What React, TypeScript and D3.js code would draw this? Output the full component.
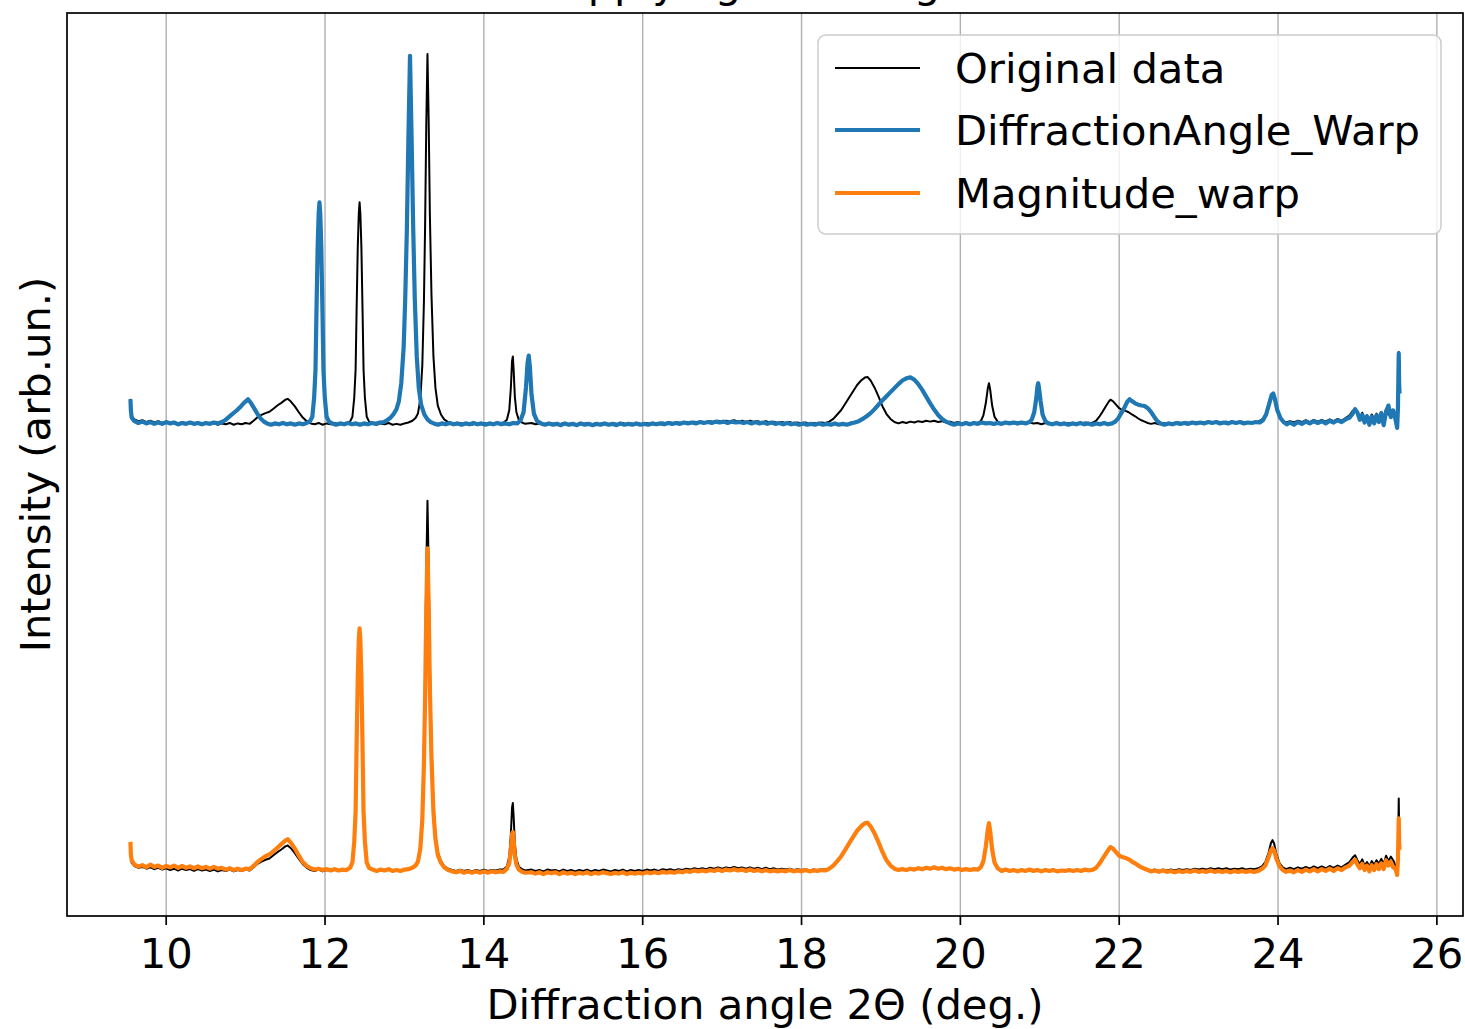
import React from "react";
import * as d3 from "d3";

type Pt = [number, number];

// vertical shift applied to the upper pair of curves (arb. units)
const OFFSET = 100;

// [2theta (deg), intensity]
const originalData: Pt[] = [
  [9.55, 5.5], [9.555, 3.2], [9.565, 1.6], [9.6, 0.9], [9.65, 0.5], [9.7, 0.7], [9.75, 0.3], [9.8, 0.6], [9.85, 0.2], [9.9, 0.5],
  [9.95, 0.1], [10.0, 0.4], [10.05, 0.0], [10.1, 0.3], [10.15, -0.1], [10.2, 0.3], [10.25, 0.0], [10.3, 0.2], [10.35, -0.2], [10.4, 0.2],
  [10.45, -0.1], [10.5, 0.1], [10.55, -0.2], [10.6, 0.1], [10.65, -0.3], [10.7, 0.0], [10.75, -0.2], [10.8, 0.1], [10.85, -0.3], [10.9, 0.0],
  [10.95, -0.2], [11.0, 0.1], [11.05, -0.1], [11.1, 0.6], [11.15, 1.4], [11.2, 1.9], [11.25, 2.3], [11.3, 2.6], [11.35, 3.3], [11.4, 4.0],
  [11.45, 4.6], [11.5, 5.3], [11.53, 5.5], [11.57, 4.9], [11.62, 3.8], [11.67, 2.5], [11.72, 1.3], [11.77, 0.5], [11.82, 0.0], [11.87, -0.2],
  [11.92, 0.1], [11.97, -0.3], [12.02, 0.0], [12.07, -0.2], [12.12, 0.1], [12.17, -0.2], [12.22, 0.0], [12.27, -0.1],
  [12.315, 0.4], [12.345, 1.5], [12.368, 5.8], [12.385, 12], [12.397, 24.8], [12.412, 39.4], [12.425, 47], [12.435, 49.5], [12.445, 47],
  [12.458, 39.4], [12.473, 24.8], [12.485, 12], [12.502, 5.8], [12.525, 1.5], [12.555, 0.4], [12.6, 0.0], [12.65, -0.3], [12.7, 0.0],
  [12.75, -0.2], [12.8, 0.1], [12.85, -0.3], [12.9, -0.1], [12.95, -0.3], [13.0, 0.0], [13.05, 0.2], [13.1, 0.6], [13.14, 1.2], [13.17, 2.2],
  [13.2, 5.5], [13.225, 13], [13.245, 27], [13.26, 44], [13.275, 67], [13.29, 82.7], [13.305, 68], [13.32, 47], [13.34, 29], [13.365, 15],
  [13.39, 8], [13.42, 4], [13.46, 2], [13.5, 0.9], [13.55, 0.3], [13.6, 0.0], [13.65, -0.2], [13.7, 0.1], [13.75, -0.2], [13.8, 0.0],
  [13.85, -0.3], [13.9, 0.0], [13.95, -0.2], [14.0, 0.1], [14.05, -0.2], [14.1, 0.0], [14.15, -0.1], [14.2, 0.1], [14.25, 0.2], [14.29, 0.8],
  [14.32, 3], [14.34, 8], [14.355, 14], [14.365, 15], [14.375, 12], [14.39, 6], [14.41, 2.5], [14.44, 0.8], [14.48, 0.2], [14.52, -0.1],
  [14.6, 0.1], [14.65, -0.2], [14.7, 0.0], [14.75, -0.3], [14.8, 0.1], [14.85, -0.1], [14.9, 0.0], [14.95, -0.3], [15.0, 0.1], [15.05, -0.2],
  [15.1, 0.0], [15.15, -0.3], [15.2, 0.0], [15.25, -0.2], [15.3, 0.1], [15.35, -0.3], [15.4, 0.0], [15.45, -0.2], [15.5, 0.1], [15.55, -0.1],
  [15.6, -0.3], [15.65, 0.0], [15.7, -0.2], [15.75, 0.1], [15.8, -0.3], [15.85, 0.0], [15.9, -0.2], [15.95, 0.0], [16.0, -0.2], [16.05, 0.1],
  [16.1, -0.1], [16.15, 0.1], [16.2, -0.2], [16.25, 0.2], [16.3, 0.0], [16.35, 0.2], [16.4, -0.1], [16.45, 0.2], [16.5, 0.0], [16.55, 0.3],
  [16.6, 0.1], [16.65, 0.4], [16.7, 0.2], [16.75, 0.4], [16.8, 0.2], [16.85, 0.5], [16.9, 0.3], [16.95, 0.6], [17.0, 0.3], [17.05, 0.6],
  [17.1, 0.4], [17.15, 0.7], [17.2, 0.4], [17.25, 0.6], [17.3, 0.3], [17.35, 0.6], [17.4, 0.3], [17.45, 0.5], [17.5, 0.2], [17.55, 0.5],
  [17.6, 0.2], [17.65, 0.4], [17.7, 0.1], [17.75, 0.3], [17.8, 0.1], [17.85, 0.3], [17.9, 0.0], [17.95, 0.2], [18.0, 0.0], [18.05, 0.2],
  [18.1, -0.1], [18.15, 0.1], [18.2, 0.0], [18.25, 0.2], [18.3, 0.1], [18.35, 0.4], [18.4, 1.0], [18.45, 2.0], [18.5, 3.0], [18.55, 4.4],
  [18.6, 5.8], [18.65, 7.2], [18.7, 8.6], [18.75, 9.6], [18.8, 10.3], [18.83, 10.4], [18.87, 9.6], [18.92, 8.0], [18.97, 6.0], [19.02, 3.8],
  [19.07, 2.1], [19.12, 1.0], [19.17, 0.3], [19.22, 0.0], [19.27, 0.3], [19.32, 0.1], [19.37, 0.4], [19.42, 0.2], [19.47, 0.5], [19.52, 0.3],
  [19.57, 0.6], [19.62, 0.4], [19.67, 0.6], [19.72, 0.3], [19.77, 0.5], [19.82, 0.2], [19.87, 0.4], [19.92, 0.1], [19.97, 0.3], [20.02, 0.0],
  [20.07, 0.2], [20.12, 0.0], [20.17, 0.2], [20.22, 0.1], [20.26, 0.6], [20.29, 1.8], [20.32, 4.5], [20.345, 7.8], [20.36, 9.0], [20.375, 7.6],
  [20.4, 4.0], [20.43, 1.5], [20.47, 0.4], [20.52, 0.0], [20.57, 0.2], [20.62, -0.1], [20.67, 0.1], [20.72, -0.2], [20.77, 0.1], [20.82, -0.1],
  [20.87, 0.2], [20.92, 0.0], [20.97, 0.1], [21.02, -0.2], [21.07, 0.1], [21.12, -0.1], [21.17, 0.1], [21.22, -0.2], [21.27, 0.0], [21.32, -0.1],
  [21.37, 0.1], [21.42, -0.1], [21.47, 0.1], [21.52, -0.1], [21.57, 0.2], [21.62, 0.0], [21.67, 0.2], [21.71, 0.6], [21.75, 1.5], [21.79, 2.6],
  [21.83, 3.8], [21.87, 4.9], [21.89, 5.3], [21.92, 5.0], [21.96, 4.2], [22.0, 3.4], [22.04, 3.0], [22.08, 2.8], [22.12, 2.5], [22.16, 2.0],
  [22.2, 1.6], [22.24, 1.1], [22.28, 0.7], [22.32, 0.4], [22.36, 0.1], [22.4, -0.1], [22.45, 0.1], [22.5, -0.2], [22.55, 0.1], [22.6, -0.1],
  [22.65, 0.1], [22.7, -0.1], [22.75, 0.2], [22.8, 0.0], [22.85, 0.2], [22.9, 0.0], [22.95, 0.3], [23.0, 0.1], [23.05, 0.3], [23.1, 0.1],
  [23.15, 0.4], [23.2, 0.2], [23.25, 0.4], [23.3, 0.2], [23.35, 0.4], [23.4, 0.1], [23.45, 0.3], [23.5, 0.2], [23.55, 0.4], [23.6, 0.1],
  [23.65, 0.3], [23.7, 0.2], [23.75, 0.4], [23.8, 0.9], [23.84, 1.8], [23.88, 3.8], [23.91, 6.0], [23.93, 6.7], [23.95, 6.0], [23.98, 3.5],
  [24.02, 1.5], [24.06, 0.6], [24.1, 0.2], [24.15, 0.5], [24.2, 0.2], [24.25, 0.6], [24.3, 0.3], [24.35, 0.7], [24.4, 0.3], [24.45, 0.8],
  [24.5, 0.4], [24.55, 0.8], [24.6, 0.4], [24.65, 0.9], [24.7, 0.5], [24.75, 1.0], [24.8, 0.6], [24.85, 1.2], [24.9, 1.8], [24.94, 2.8],
  [24.97, 3.3], [25.0, 2.2], [25.03, 1.3], [25.06, 2.4], [25.09, 1.0], [25.12, 1.8], [25.15, 0.8], [25.18, 2.0], [25.21, 1.1], [25.24, 2.2],
  [25.27, 1.4], [25.3, 2.5], [25.33, 1.3], [25.36, 3.2], [25.39, 2.0], [25.42, 3.0], [25.45, 2.2], [25.48, 1.0], [25.5, 0.0], [25.51, 4.0],
  [25.52, 16.0], [25.525, 9.0], [25.53, 7.0],
];

const angleWarpData: Pt[] = [
  [9.55, 5.4], [9.555, 3.0], [9.565, 1.3], [9.6, 0.5], [9.65, 0.1], [9.7, 0.4], [9.75, 0.0], [9.8, 0.3], [9.85, -0.1], [9.9, 0.2],
  [9.95, -0.1], [10.0, 0.3], [10.05, 0.0], [10.1, 0.2], [10.15, -0.2], [10.2, 0.1], [10.25, -0.1], [10.3, 0.2], [10.35, -0.1], [10.4, 0.1],
  [10.45, -0.2], [10.5, 0.1], [10.55, -0.1], [10.6, 0.2], [10.65, 0.0], [10.7, 0.3], [10.74, 0.7], [10.78, 1.3], [10.82, 1.9], [10.86, 2.5],
  [10.9, 3.1], [10.94, 3.8], [10.98, 4.6], [11.03, 5.4], [11.07, 4.5], [11.11, 3.3], [11.15, 2.1], [11.19, 1.1], [11.23, 0.4], [11.27, 0.0],
  [11.32, -0.3], [11.37, 0.0], [11.42, -0.2], [11.47, 0.1], [11.52, -0.2], [11.57, 0.0], [11.62, -0.3], [11.67, 0.0], [11.72, -0.2], [11.77, 0.1],
  [11.81, 0.5], [11.84, 1.5], [11.863, 5.8], [11.88, 12], [11.892, 24.8], [11.907, 39.4], [11.92, 47], [11.93, 49.5], [11.94, 47], [11.953, 39.4],
  [11.968, 24.8], [11.98, 12], [11.997, 5.8], [12.02, 1.5], [12.05, 0.4], [12.09, 0.0], [12.14, -0.3], [12.19, 0.0], [12.24, -0.2], [12.29, 0.1],
  [12.34, -0.2], [12.39, 0.0], [12.44, -0.3], [12.49, 0.0], [12.54, -0.2], [12.59, 0.1], [12.64, -0.1], [12.69, 0.2], [12.74, 0.3], [12.78, 0.7],
  [12.82, 1.2], [12.86, 2.0], [12.9, 3.2], [12.93, 5.0], [12.96, 9.0], [12.99, 17], [13.01, 28], [13.03, 43], [13.05, 64], [13.07, 82.3],
  [13.09, 64], [13.11, 44], [13.13, 28], [13.155, 15], [13.18, 8], [13.21, 4.2], [13.25, 2.0], [13.29, 0.9], [13.33, 0.3], [13.37, 0.0],
  [13.42, -0.3], [13.47, 0.0], [13.52, -0.2], [13.57, 0.1], [13.62, -0.2], [13.67, 0.0], [13.72, -0.3], [13.77, 0.0], [13.82, -0.2], [13.87, 0.1],
  [13.92, -0.2], [13.97, 0.0], [14.02, -0.3], [14.07, 0.0], [14.12, -0.2], [14.17, 0.1], [14.22, -0.2], [14.27, 0.0], [14.32, -0.2], [14.37, 0.1],
  [14.42, 0.0], [14.46, 0.6], [14.5, 2.5], [14.53, 8], [14.55, 13.5], [14.565, 15.2], [14.58, 12.5], [14.6, 6.5], [14.63, 2.2], [14.67, 0.5],
  [14.72, 0.0], [14.77, -0.3], [14.82, 0.0], [14.87, -0.3], [14.92, -0.1], [14.97, -0.4], [15.02, 0.0], [15.07, -0.3], [15.12, -0.1], [15.17, -0.4],
  [15.22, 0.0], [15.27, -0.3], [15.32, -0.1], [15.37, -0.4], [15.42, -0.1], [15.47, -0.3], [15.52, 0.0], [15.57, -0.3], [15.62, -0.1], [15.67, -0.4],
  [15.72, 0.0], [15.77, -0.3], [15.82, -0.1], [15.87, -0.3], [15.92, 0.0], [15.97, -0.3], [16.02, -0.1], [16.07, -0.3], [16.12, 0.0], [16.17, -0.2],
  [16.22, 0.0], [16.27, -0.2], [16.32, 0.1], [16.37, -0.1], [16.42, 0.1], [16.47, -0.1], [16.52, 0.2], [16.57, 0.0], [16.62, 0.2], [16.67, 0.0],
  [16.72, 0.3], [16.77, 0.1], [16.82, 0.3], [16.87, 0.1], [16.92, 0.4], [16.97, 0.2], [17.02, 0.4], [17.07, 0.1], [17.12, 0.4], [17.17, 0.2],
  [17.22, 0.3], [17.27, 0.1], [17.32, 0.3], [17.37, 0.0], [17.42, 0.3], [17.47, 0.0], [17.52, 0.2], [17.57, -0.1], [17.62, 0.2], [17.67, -0.1],
  [17.72, 0.1], [17.77, -0.2], [17.82, 0.1], [17.87, -0.2], [17.92, 0.0], [17.97, -0.3], [18.02, 0.0], [18.07, -0.3], [18.12, -0.1], [18.17, -0.3],
  [18.22, 0.0], [18.27, -0.3], [18.32, -0.1], [18.37, -0.3], [18.42, 0.0], [18.47, -0.3], [18.52, -0.1], [18.57, -0.3], [18.62, 0.0], [18.67, 0.2],
  [18.72, 0.5], [18.77, 1.0], [18.82, 1.6], [18.87, 2.3], [18.92, 3.2], [18.97, 4.2], [19.02, 5.2], [19.07, 6.1], [19.12, 7.0], [19.17, 7.9],
  [19.22, 8.8], [19.27, 9.6], [19.32, 10.1], [19.37, 10.3], [19.42, 9.8], [19.47, 8.8], [19.52, 7.5], [19.57, 6.0], [19.62, 4.5], [19.67, 3.1],
  [19.72, 1.9], [19.77, 1.0], [19.82, 0.4], [19.87, 0.0], [19.92, -0.3], [19.97, 0.0], [20.02, -0.2], [20.07, 0.1], [20.12, -0.2], [20.17, 0.1],
  [20.22, -0.1], [20.27, 0.2], [20.32, 0.0], [20.37, 0.1], [20.42, -0.1], [20.47, 0.1], [20.52, -0.1], [20.57, 0.2], [20.62, 0.0], [20.67, 0.2],
  [20.72, 0.0], [20.77, 0.2], [20.82, 0.0], [20.87, 0.3], [20.9, 0.9], [20.93, 2.5], [20.955, 5.5], [20.97, 8.2], [20.98, 9.0], [20.99, 8.0],
  [21.01, 5.0], [21.035, 2.0], [21.07, 0.5], [21.11, 0.0], [21.16, -0.2], [21.21, 0.1], [21.26, -0.2], [21.31, 0.0], [21.36, -0.3], [21.41, 0.0],
  [21.46, -0.2], [21.51, 0.1], [21.56, -0.2], [21.61, 0.0], [21.66, -0.3], [21.71, 0.0], [21.76, -0.2], [21.81, 0.1], [21.86, -0.2], [21.91, 0.0],
  [21.95, 0.4], [21.99, 1.2], [22.03, 2.4], [22.07, 3.7], [22.1, 4.8], [22.13, 5.4], [22.16, 5.0], [22.2, 4.5], [22.24, 4.2], [22.28, 4.0],
  [22.32, 3.9], [22.36, 3.4], [22.4, 2.6], [22.44, 1.5], [22.48, 0.5], [22.52, 0.0], [22.57, -0.3], [22.62, 0.0], [22.67, -0.2], [22.72, 0.1],
  [22.77, -0.1], [22.82, 0.1], [22.87, -0.1], [22.92, 0.2], [22.97, 0.0], [23.02, 0.2], [23.07, 0.0], [23.12, 0.3], [23.17, 0.1], [23.22, 0.3],
  [23.27, 0.0], [23.32, 0.2], [23.37, 0.0], [23.42, 0.3], [23.47, 0.1], [23.52, 0.3], [23.57, 0.0], [23.62, 0.2], [23.67, 0.1], [23.72, 0.3],
  [23.77, 0.2], [23.81, 0.7], [23.85, 2.0], [23.89, 4.5], [23.92, 6.4], [23.94, 6.7], [23.96, 5.5], [23.99, 3.0], [24.03, 1.2], [24.07, 0.3],
  [24.11, -0.2], [24.15, 0.2], [24.2, -0.3], [24.25, 0.3], [24.3, -0.1], [24.35, 0.4], [24.4, 0.0], [24.45, 0.5], [24.5, 0.1], [24.55, 0.5],
  [24.6, 0.0], [24.65, 0.6], [24.7, 0.2], [24.75, 0.7], [24.8, 0.3], [24.85, 0.9], [24.9, 1.3], [24.94, 2.2], [24.97, 3.2], [25.0, 2.4],
  [25.03, 0.8], [25.06, 1.9], [25.09, 0.2], [25.12, 1.6], [25.15, -0.3], [25.18, 1.5], [25.21, 0.0], [25.24, 1.8], [25.27, 0.3], [25.3, 2.3],
  [25.33, -0.4], [25.36, 2.6], [25.39, 4.0], [25.42, 1.4], [25.45, 2.9], [25.48, 0.8], [25.5, -1.0], [25.51, 3.5], [25.515, 10], [25.52, 15.7],
  [25.525, 9.0], [25.53, 6.7],
];

const magnitudeWarpData: Pt[] = [
  [9.55, 6.3], [9.555, 3.6], [9.565, 2.2], [9.6, 1.2], [9.65, 0.8], [9.7, 1.1], [9.75, 0.6], [9.8, 1.2], [9.85, 0.7], [9.9, 1.0],
  [9.95, 0.5], [10.0, 0.9], [10.05, 0.6], [10.1, 1.0], [10.15, 0.5], [10.2, 0.9], [10.25, 0.5], [10.3, 0.8], [10.35, 0.4], [10.4, 0.8],
  [10.45, 0.4], [10.5, 0.7], [10.55, 0.3], [10.6, 0.7], [10.65, 0.3], [10.7, 0.5], [10.75, 0.1], [10.8, 0.4], [10.85, 0.0], [10.9, 0.3],
  [10.95, 0.0], [11.0, 0.3], [11.05, 0.2], [11.1, 0.9], [11.15, 1.8], [11.2, 2.5], [11.25, 3.1], [11.3, 3.5], [11.35, 4.2], [11.4, 5.0],
  [11.45, 5.8], [11.5, 6.6], [11.53, 6.9], [11.57, 6.1], [11.62, 4.8], [11.67, 3.2], [11.72, 1.8], [11.77, 0.9], [11.82, 0.4], [11.87, 0.1],
  [11.92, 0.3], [11.97, 0.0], [12.02, 0.2], [12.07, -0.1], [12.12, 0.2], [12.17, -0.1], [12.22, 0.1], [12.27, 0.0],
  [12.315, 0.5], [12.345, 1.7], [12.368, 6.4], [12.385, 13], [12.397, 27], [12.412, 43], [12.425, 51.5], [12.435, 54.1], [12.445, 51.5],
  [12.458, 43], [12.473, 27], [12.485, 13], [12.502, 6.4], [12.525, 1.7], [12.555, 0.5], [12.6, 0.1], [12.65, -0.2], [12.7, 0.1],
  [12.75, -0.1], [12.8, 0.2], [12.85, -0.2], [12.9, 0.0], [12.95, -0.2], [13.0, 0.1], [13.05, 0.2], [13.1, 0.5], [13.14, 1.0], [13.17, 1.9],
  [13.2, 4.8], [13.225, 11.3], [13.245, 23.5], [13.26, 38.3], [13.275, 58.3], [13.29, 72], [13.305, 59.2], [13.32, 41], [13.34, 25.2], [13.365, 13],
  [13.39, 7], [13.42, 3.4], [13.46, 1.6], [13.5, 0.6], [13.55, 0.0], [13.6, -0.3], [13.65, -0.5], [13.7, -0.2], [13.75, -0.6], [13.8, -0.3],
  [13.85, -0.6], [13.9, -0.3], [13.95, -0.6], [14.0, -0.3], [14.05, -0.6], [14.1, -0.3], [14.15, -0.5], [14.2, -0.3], [14.25, -0.4], [14.29, 0.3],
  [14.32, 1.5], [14.34, 4.5], [14.355, 8.0], [14.365, 8.5], [14.375, 6.8], [14.39, 3.3], [14.41, 1.2], [14.44, 0.1], [14.48, -0.4], [14.52, -0.6],
  [14.6, -0.5], [14.65, -0.8], [14.7, -0.5], [14.75, -0.9], [14.8, -0.5], [14.85, -0.7], [14.9, -0.5], [14.95, -0.9], [15.0, -0.5], [15.05, -0.8],
  [15.1, -0.6], [15.15, -0.9], [15.2, -0.6], [15.25, -0.8], [15.3, -0.5], [15.35, -0.9], [15.4, -0.6], [15.45, -0.8], [15.5, -0.5], [15.55, -0.7],
  [15.6, -0.9], [15.65, -0.6], [15.7, -0.8], [15.75, -0.5], [15.8, -0.9], [15.85, -0.6], [15.9, -0.8], [15.95, -0.6], [16.0, -0.8], [16.05, -0.5],
  [16.1, -0.7], [16.15, -0.5], [16.2, -0.7], [16.25, -0.4], [16.3, -0.6], [16.35, -0.4], [16.4, -0.6], [16.45, -0.3], [16.5, -0.5], [16.55, -0.2],
  [16.6, -0.4], [16.65, -0.1], [16.7, -0.3], [16.75, -0.1], [16.8, -0.3], [16.85, 0.0], [16.9, -0.2], [16.95, 0.1], [17.0, -0.2], [17.05, 0.1],
  [17.1, -0.1], [17.15, 0.2], [17.2, -0.1], [17.25, 0.1], [17.3, -0.2], [17.35, 0.1], [17.4, -0.2], [17.45, 0.0], [17.5, -0.3], [17.55, 0.0],
  [17.6, -0.3], [17.65, -0.1], [17.7, -0.3], [17.75, -0.1], [17.8, -0.3], [17.85, 0.0], [17.9, -0.3], [17.95, -0.1], [18.0, -0.3], [18.05, 0.0],
  [18.1, -0.3], [18.15, -0.1], [18.2, -0.2], [18.25, 0.0], [18.3, -0.1], [18.35, 0.3], [18.4, 1.0], [18.45, 2.0], [18.5, 3.1], [18.55, 4.5],
  [18.6, 6.0], [18.65, 7.4], [18.7, 8.8], [18.75, 9.8], [18.8, 10.5], [18.83, 10.6], [18.87, 9.8], [18.92, 8.2], [18.97, 6.2], [19.02, 4.0],
  [19.07, 2.2], [19.12, 1.0], [19.17, 0.3], [19.22, 0.0], [19.27, 0.2], [19.32, 0.0], [19.37, 0.3], [19.42, 0.1], [19.47, 0.4], [19.52, 0.2],
  [19.57, 0.5], [19.62, 0.3], [19.67, 0.6], [19.72, 0.3], [19.77, 0.5], [19.82, 0.2], [19.87, 0.4], [19.92, 0.1], [19.97, 0.3], [20.02, 0.0],
  [20.07, 0.2], [20.12, 0.0], [20.17, 0.2], [20.22, 0.1], [20.26, 0.7], [20.29, 2.0], [20.32, 5.2], [20.345, 9.0], [20.36, 10.5], [20.375, 8.8],
  [20.4, 4.6], [20.43, 1.7], [20.47, 0.4], [20.52, -0.2], [20.57, 0.1], [20.62, -0.2], [20.67, 0.0], [20.72, -0.3], [20.77, 0.0], [20.82, -0.2],
  [20.87, 0.1], [20.92, -0.2], [20.97, 0.0], [21.02, -0.3], [21.07, 0.0], [21.12, -0.2], [21.17, 0.0], [21.22, -0.3], [21.27, -0.1], [21.32, -0.2],
  [21.37, 0.0], [21.42, -0.2], [21.47, 0.0], [21.52, -0.2], [21.57, 0.1], [21.62, -0.1], [21.67, 0.1], [21.71, 0.5], [21.75, 1.4], [21.79, 2.5],
  [21.83, 3.6], [21.87, 4.7], [21.89, 5.1], [21.92, 4.8], [21.96, 4.0], [22.0, 3.2], [22.04, 2.9], [22.08, 2.7], [22.12, 2.4], [22.16, 1.9],
  [22.2, 1.5], [22.24, 1.0], [22.28, 0.6], [22.32, 0.3], [22.36, 0.0], [22.4, -0.3], [22.45, -0.1], [22.5, -0.4], [22.55, -0.1], [22.6, -0.4],
  [22.65, -0.2], [22.7, -0.5], [22.75, -0.2], [22.8, -0.4], [22.85, -0.2], [22.9, -0.4], [22.95, -0.1], [23.0, -0.4], [23.05, -0.2], [23.1, -0.4],
  [23.15, -0.1], [23.2, -0.4], [23.25, -0.2], [23.3, -0.4], [23.35, -0.2], [23.4, -0.5], [23.45, -0.2], [23.5, -0.4], [23.55, -0.2], [23.6, -0.4],
  [23.65, -0.2], [23.7, -0.4], [23.75, -0.2], [23.8, 0.3], [23.84, 1.0], [23.88, 2.8], [23.91, 4.4], [23.93, 4.9], [23.95, 4.4], [23.98, 2.5],
  [24.02, 0.8], [24.06, 0.0], [24.1, -0.4], [24.15, -0.1], [24.2, -0.5], [24.25, 0.0], [24.3, -0.4], [24.35, 0.1], [24.4, -0.3], [24.45, 0.2],
  [24.5, -0.3], [24.55, 0.2], [24.6, -0.2], [24.65, 0.3], [24.7, -0.2], [24.75, 0.4], [24.8, 0.0], [24.85, 0.6], [24.9, 1.0], [24.94, 1.8],
  [24.97, 2.3], [25.0, 1.2], [25.03, 0.4], [25.06, 1.4], [25.09, 0.0], [25.12, 1.0], [25.15, -0.3], [25.18, 1.1], [25.21, 0.0], [25.24, 1.3],
  [25.27, 0.2], [25.3, 1.5], [25.33, 0.2], [25.36, 2.2], [25.39, 1.0], [25.42, 1.8], [25.45, 0.6], [25.48, 0.2], [25.5, -1.1], [25.51, 2.5],
  [25.52, 11.6], [25.525, 6.0], [25.53, 4.5],
];

const xTicks = [10, 12, 14, 16, 18, 20, 22, 24, 26];
const legendLabels = ["Original data", "DiffractionAngle_Warp", "Magnitude_warp"];
const lineColors = ["#000000", "#1f77b4", "#ff7f0e"];
const titleText = "Effect of applying data augmentation";
const xLabel = "Diffraction angle 2\u0398 (deg.)";
const yLabel = "Intensity (arb.un.)";

const W = 1465, H = 1029;
const M = { top: 13, right: 2, bottom: 113, left: 67 };
const FONT = "'DejaVu Sans', sans-serif";
const FS = 41.7;
const THIN = 2.0;
const THICK = 4.2;

export default function App() {
  const shifted = (d: Pt[]): Pt[] => d.map(([a, v]) => [a, v + OFFSET] as Pt);

  // drawing order: original (top), angle warp, original (bottom), magnitude warp
  const series = [
    { data: shifted(originalData), color: lineColors[0], width: THIN },
    { data: shifted(angleWarpData), color: lineColors[1], width: THICK },
    { data: originalData, color: lineColors[0], width: THIN },
    { data: magnitudeWarpData, color: lineColors[2], width: THICK },
  ];

  const all = series.flatMap((s) => s.data);
  const [xa, xb] = d3.extent(all, (d) => d[0]) as [number, number];
  const [ya, yb] = d3.extent(all, (d) => d[1]) as [number, number];
  const padX = (xb - xa) * 0.05;
  const padY = (yb - ya) * 0.05;

  const x = d3.scaleLinear().domain([xa - padX, xb + padX]).range([M.left, W - M.right]);
  const y = d3.scaleLinear().domain([ya - padY, yb + padY]).range([H - M.bottom, M.top]);

  const line = d3.line<Pt>().x((d) => x(d[0])).y((d) => y(d[1]));

  const plotTop = M.top, plotBottom = H - M.bottom;
  const plotLeft = M.left, plotRight = W - M.right;
  const cx = (plotLeft + plotRight) / 2;
  const cy = (plotTop + plotBottom) / 2;

  const legendRows = [68, 130, 193];
  const legendWidths = [THIN, THICK, THICK];

  return (
    <div style={{ position: "absolute", left: 0, top: 0, width: W, height: H, background: "#fff" }}>
      <svg width={W} height={H} style={{ display: "block", fontFamily: FONT }}>
        <rect x={0} y={0} width={W} height={H} fill="#fff" />

        {/* title, mostly cut off by the top edge as in the source */}
        <text x={cx} y={-3} textAnchor="middle" fontSize={FS} fill="#000">{titleText}</text>

        {/* grid */}
        {xTicks.map((t) => (
          <line key={"g" + t} x1={x(t)} x2={x(t)} y1={plotTop} y2={plotBottom} stroke="#b0b0b0" strokeWidth={1.4} />
        ))}

        {/* curves */}
        {series.map((s, i) => (
          <path
            key={i}
            d={line(s.data) || ""}
            fill="none"
            stroke={s.color}
            strokeWidth={s.width}
            strokeLinejoin="round"
          />
        ))}

        {/* frame */}
        <rect x={plotLeft} y={plotTop} width={plotRight - plotLeft} height={plotBottom - plotTop}
          fill="none" stroke="#000" strokeWidth={1.7} />

        {/* x ticks */}
        {xTicks.map((t) => (
          <g key={"t" + t}>
            <line x1={x(t)} x2={x(t)} y1={plotBottom} y2={plotBottom + 9} stroke="#000" strokeWidth={1.7} />
            <text x={x(t)} y={968} textAnchor="middle" fontSize={FS} fill="#000">{t}</text>
          </g>
        ))}

        <text x={cx} y={1019} textAnchor="middle" fontSize={FS} fill="#000">{xLabel}</text>
        <text transform={`translate(50,${cy}) rotate(-90)`} textAnchor="middle" fontSize={FS} fill="#000">{yLabel}</text>

        {/* legend */}
        <rect x={818} y={35} width={623} height={199} rx={8} fill="#fff" fillOpacity={0.8} stroke="#cccccc" strokeWidth={1.5} />
        {legendLabels.map((lab, i) => (
          <g key={lab}>
            <line x1={835} x2={920} y1={legendRows[i]} y2={legendRows[i]} stroke={lineColors[i]} strokeWidth={legendWidths[i]} />
            <text x={955} y={legendRows[i] + 15} fontSize={FS} fill="#000">{lab}</text>
          </g>
        ))}
      </svg>
    </div>
  );
}
